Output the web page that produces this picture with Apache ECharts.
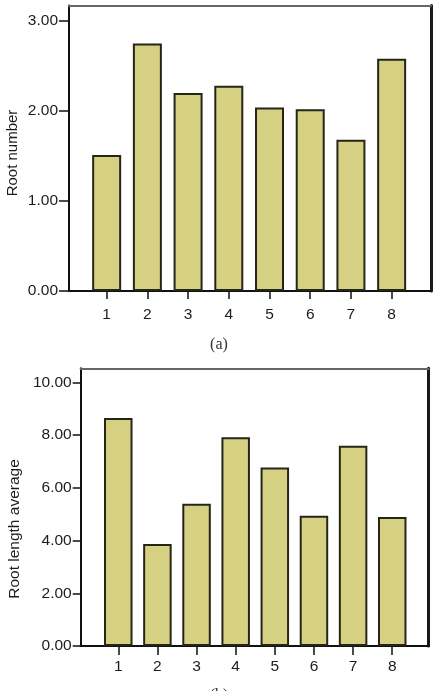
<!DOCTYPE html>
<html>
<head>
<meta charset="utf-8">
<style>html,body{margin:0;padding:0;background:#fff}#c{width:439px;height:691px}</style>
<script src="https://cdn.jsdelivr.net/npm/echarts@6/dist/echarts.min.js"></script>
</head>
<body>
<div id="c"></div>
<script>
var categories = ['1','2','3','4','5','6','7','8'];
var rootNumber = [1.51, 2.75, 2.20, 2.28, 2.04, 2.02, 1.68, 2.58];
var rootLength = [8.65, 3.87, 5.39, 7.92, 6.77, 4.94, 7.59, 4.89];
var yTicksA = [0, 1, 2, 3];
var yTicksB = [0, 2, 4, 6, 8, 10];
var nameA = 'Root number';
var nameB = 'Root length average';
var captionA = '(a)';
var captionB = '(b)';

var FONT = '"Liberation Sans", Arial, sans-serif';
var TXT = '#1c1c1c';
var BAR = '#d6d082';
var BARB = '#26251a';

function frameX(grid, pos, color, w) {
  return {type:'value', gridIndex:grid, position:pos, min:0, max:1, show:true,
    axisLine:{show:true, onZero:false, lineStyle:{color:color, width:w}},
    axisTick:{show:false}, axisLabel:{show:false}, splitLine:{show:false}};
}
function hiddenAxis(grid, type, max) {
  var a = {type:type, gridIndex:grid, show:false};
  if (type === 'value') { a.min = 0; a.max = max; }
  else { a.data = categories; }
  return a;
}
function labelY(grid, ticks, tickLen, margin) {
  return {type:'value', gridIndex:grid, min:ticks[0], max:ticks[ticks.length-1],
    interval:ticks[1]-ticks[0],
    axisLine:{show:false},
    axisTick:{show:true, inside:false, length:tickLen, lineStyle:{color:'#111', width:1.5}},
    axisLabel:{margin:margin, color:TXT, fontFamily:FONT, fontSize:15.5,
      formatter:function(v){return v.toFixed(2);}},
    splitLine:{show:false}};
}
function catX(grid, tickLen, margin) {
  return {type:'category', gridIndex:grid, data:categories, boundaryGap:true,
    axisLine:{show:false},
    axisTick:{show:true, alignWithLabel:true, length:tickLen, lineStyle:{color:'#111', width:1.5}},
    axisLabel:{margin:margin, color:TXT, fontFamily:FONT, fontSize:15.5},
    splitLine:{show:false}};
}

var chart = echarts.init(document.getElementById('c'), null, {renderer:'canvas'});
chart.setOption({
  animation:false,
  backgroundColor:'#fff',
  grid:[
    {left:69, top:5.5, width:362, height:285.5},
    {left:69, top:21, width:362, height:270},
    {left:86.3, top:21, width:325.7, height:270},
    {left:80.7, top:368.3, width:348, height:277.7},
    {left:80.7, top:382.3, width:348, height:263.7},
    {left:98.7, top:382.3, width:313.1, height:263.7}
  ],
  xAxis:[
    frameX(0,'top','#666',2),
    frameX(0,'bottom','#111',2.2),
    hiddenAxis(1,'category'),
    catX(2, 8, 16),
    frameX(3,'top','#666',2),
    frameX(3,'bottom','#111',2.2),
    hiddenAxis(4,'category'),
    catX(5, 9, 13)
  ],
  yAxis:[
    frameX(0,'left','#111',2),
    frameX(0,'right','#1a1a1a',3),
    labelY(1, yTicksA, 10, 11),
    hiddenAxis(2,'value', yTicksA[yTicksA.length-1]),
    frameX(3,'left','#111',2),
    frameX(3,'right','#1a1a1a',3),
    labelY(4, yTicksB, 8, 9),
    hiddenAxis(5,'value', yTicksB[yTicksB.length-1])
  ],
  series:[
    {type:'bar', xAxisIndex:3, yAxisIndex:3, data:rootNumber, barWidth:29,
      itemStyle:{color:BAR, borderColor:BARB, borderWidth:2}},
    {type:'bar', xAxisIndex:7, yAxisIndex:7, data:rootLength, barWidth:28.5,
      itemStyle:{color:BAR, borderColor:BARB, borderWidth:2}}
  ],
  graphic:[
    {type:'text', x:13, y:153, rotation:Math.PI/2,
      style:{text:nameA, fill:TXT, font:'15px '+FONT, textAlign:'center', textVerticalAlign:'middle'}},
    {type:'text', x:15, y:529, rotation:Math.PI/2,
      style:{text:nameB, fill:TXT, font:'15.5px '+FONT, textAlign:'center', textVerticalAlign:'middle'}},
    {type:'text', x:219, y:345,
      style:{text:captionA, fill:'#333', font:'16px "Liberation Serif", "Times New Roman", serif', textAlign:'center', textVerticalAlign:'middle'}},
    {type:'text', x:219, y:696,
      style:{text:captionB, fill:'#333', font:'16px "Liberation Serif", "Times New Roman", serif', textAlign:'center', textVerticalAlign:'middle'}}
  ]
});
</script>
</body>
</html>
